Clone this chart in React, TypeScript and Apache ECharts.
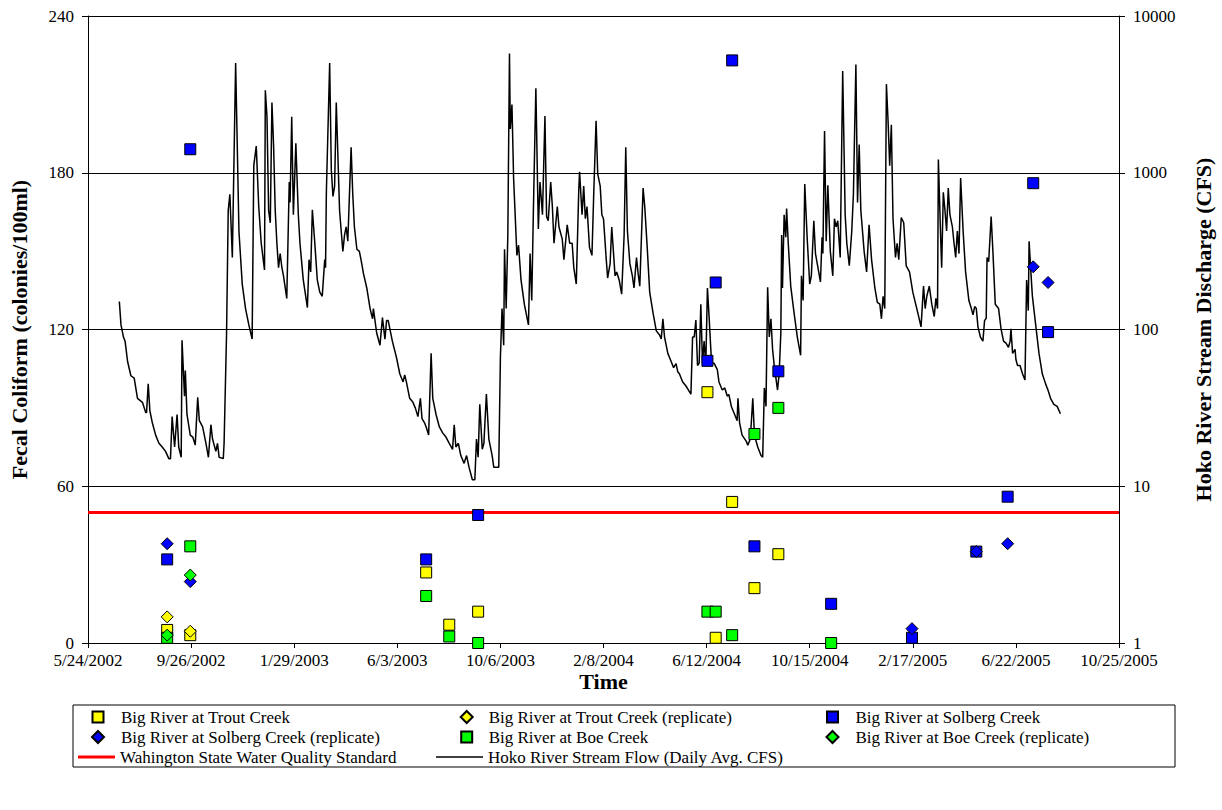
import React, { useEffect, useRef } from "react";
import * as echarts from "echarts";

// ---------- axis definitions ----------
const BASE_UTC = Date.UTC(2002, 4, 24); // 5/24/2002 = day 0
const X_MAX_DAYS = 1250; // 10/25/2005
const X_STEP_DAYS = 125;
const LEFT_MAX = 240;
const LEFT_STEP = 60;
const RIGHT_MIN = 1;
const RIGHT_MAX = 10000;
const WQ_STANDARD = 50;

// ---------- names ----------
const N_TROUT = "Big River at Trout Creek";
const N_TROUT_R = "Big River at Trout Creek (replicate)";
const N_SOLB = "Big River at Solberg Creek";
const N_SOLB_R = "Big River at Solberg Creek (replicate)";
const N_BOE = "Big River at Boe Creek";
const N_BOE_R = "Big River at Boe Creek (replicate)";
const N_STD = "Wahington State Water Quality Standard";
const N_FLOW = "Hoko River Stream Flow (Daily Avg. CFS)";

// ---------- fecal coliform samples (day offset from 5/24/2002, colonies/100ml) ----------
const troutDays = [96, 124, 410, 438, 473, 751, 761, 781, 808, 837];
const troutVals = [5, 3, 27, 7, 12, 96, 2, 54, 21, 34];
const troutRepDays = [96, 124];
const troutRepVals = [10, 4.5];
const solbDays = [96, 124, 410, 473, 751, 761, 781, 808, 837, 901, 999, 1077, 1115, 1146, 1164];
const solbVals = [32, 189, 32, 49, 108, 138, 223, 37, 104, 15, 2, 35, 56, 176, 119];
const solbRepDays = [96, 124, 999, 1077, 1115, 1146, 1164];
const solbRepVals = [38, 23.5, 5.5, 35, 38, 144, 138];
const boeDays = [96, 124, 410, 438, 473, 751, 761, 781, 808, 837, 901];
const boeVals = [2, 37, 18, 2.5, 0, 12, 12, 3, 80, 90, 0];
const boeRepDays = [96, 124];
const boeRepVals = [3, 26];

// ---------- Hoko River daily flow (day offset, CFS) ----------
const flowDays = [
  38, 40, 43, 45, 48, 52, 56, 60, 66, 70, 71, 73, 75, 78, 82, 86, 90, 94, 98, 100,
  102, 105, 108, 110, 113, 114, 117, 118, 120, 124, 127, 130, 133, 135, 139, 143, 146, 149, 151, 155,
  157, 159, 164, 165, 168, 170, 172, 175, 179, 183, 187, 191, 195, 199, 201, 204, 207, 210, 214, 215,
  217, 219, 221, 223, 225, 227, 229, 231, 233, 235, 237, 241, 244, 245, 247, 249, 252, 255, 257, 261,
  266, 268, 270, 272, 275, 278, 281, 284, 287, 288, 289, 293, 295, 297, 299, 301, 305, 307, 309, 311,
  313, 315, 317, 319, 321, 323, 326, 329, 331, 334, 338, 342, 345, 346, 350, 354, 357, 360, 362, 364,
  366, 369, 374, 378, 382, 384, 386, 390, 394, 397, 400, 403, 405, 408, 410, 413, 416, 418, 420, 422,
  426, 430, 434, 438, 442, 444, 446, 449, 452, 456, 459, 462, 466, 469, 471, 473, 475, 478, 480, 483,
  486, 490, 492, 498, 500, 502, 504, 505, 507, 509, 511, 512, 514, 516, 520, 522, 525, 529, 534, 536,
  538, 540, 543, 546, 548, 551, 554, 556, 558, 561, 563, 565, 569, 571, 575, 577, 581, 584, 587, 589,
  592, 595, 596, 599, 601, 603, 605, 608, 611, 613, 616, 618, 621, 623, 625, 628, 630, 633, 635, 637,
  639, 641, 644, 647, 650, 652, 654, 657, 660, 662, 665, 667, 669, 673, 675, 678, 681, 685, 689, 693,
  695, 697, 699, 703, 707, 710, 713, 715, 717, 721, 725, 728, 731, 733, 735, 737, 739, 741, 743, 745,
  747, 749, 751, 753, 756, 759, 763, 765, 769, 772, 775, 777, 780, 784, 787, 788, 790, 793, 798, 800,
  803, 806, 808, 812, 816, 818, 820, 822, 824, 826, 828, 830, 832, 836, 838, 840, 841, 842, 844, 846,
  847, 849, 852, 856, 860, 864, 865, 867, 869, 872, 875, 877, 880, 882, 885, 888, 890, 891, 893, 895,
  897, 900, 903, 905, 907, 909, 912, 915, 918, 920, 923, 926, 928, 931, 933, 935, 937, 941, 944, 947,
  950, 954, 957, 960, 962, 964, 966, 968, 970, 972, 974, 976, 979, 981, 983, 986, 989, 992, 996, 1000,
  1006, 1010, 1013, 1015, 1017, 1020, 1023, 1026, 1028, 1030, 1031, 1034, 1035, 1037, 1039, 1041, 1043, 1045, 1048, 1050,
  1052, 1054, 1056, 1058, 1061, 1064, 1068, 1071, 1073, 1075, 1077, 1079, 1082, 1085, 1087, 1089, 1090, 1092, 1095, 1097,
  1100, 1104, 1107, 1110, 1113, 1116, 1118, 1119, 1121, 1124, 1125, 1127, 1130, 1133, 1136, 1138, 1140, 1141, 1143, 1145,
  1149, 1153, 1157, 1161, 1164, 1167, 1171, 1175, 1179,
];
const flowCfs = [
  151, 107, 89.5, 84, 62.5, 50.7, 49, 36.4, 34.3, 29.5, 29.5, 45, 30.4, 25.4, 21.2, 18.8, 17.8, 16.7, 15, 15,
  27.8, 17.8, 28.7, 17.8, 15.3, 85.3, 37.5, 54.7, 28.7, 21.2, 20.6, 18.3, 36.9, 26.2, 23.9, 18.8, 15.3, 24.7, 20, 16.7,
  18.8, 15.3, 15, 18.8, 95, 574, 729, 288, 5020, 425, 195, 136, 107, 86.9, 1109, 1479, 609, 355, 240, 3360,
  2277, 574, 479, 2806, 1497, 574, 355, 248, 305, 250, 220, 158, 873, 647, 2277, 540, 1542, 540, 355, 207,
  138, 279, 233, 581, 355, 207, 173, 163, 279, 248, 751, 5020, 1045, 707, 822, 2806, 574, 425, 315, 400,
  451, 366, 729, 1452, 729, 451, 325, 315, 279, 227, 184, 136, 117, 136, 95, 79.4, 119, 86.9, 114, 114,
  101, 84.3, 66.3, 52.2, 46.3, 51.3, 46.3, 36.4, 34.3, 31.4, 27.8, 36.4, 27, 25.4, 23.9, 21.2, 70.4, 36.4, 32.3, 28.7,
  23.9, 21.9, 20.6, 18.8, 17.2, 24.7, 17.8, 18.8, 15.7, 14, 15.7, 13.2, 11, 11, 20, 15.3, 33.3, 17.2, 18.8, 38.7,
  20, 15.7, 13.2, 13.2, 66.3, 136, 79.4, 325, 136, 400, 5770, 1901, 2723, 927, 297, 345, 207, 145, 107, 305,
  153, 574, 3460, 438, 873, 540, 2303, 525, 494, 873, 609, 355, 609, 451, 377, 279, 465, 355, 355, 248,
  195, 774, 1013, 540, 822, 509, 609, 334, 297, 687, 2144, 984, 822, 540, 509, 297, 213, 263, 451, 315,
  220, 233, 207, 168, 400, 1452, 425, 263, 220, 184, 288, 227, 189, 798, 609, 334, 173, 128, 98, 92.2,
  86.9, 117, 89.5, 70.4, 62.5, 57.1, 60.6, 53.8, 52.2, 46.3, 43.6, 41.1, 38.7, 89.5, 89.5, 115, 58.9, 61, 145, 61,
  84.3, 59, 184, 121, 61, 61, 55.4, 46.3, 41.1, 42.4, 37.6, 38.5, 32.3, 28.7, 26.2, 36.4, 25.4, 21.2, 19.4, 18.3,
  20, 36.4, 21.2, 17.8, 15.7, 15.3, 42.4, 32.3, 186, 89.5, 117, 74.8, 58.9, 41.1, 52.2, 95, 400, 184, 540, 388,
  591, 355, 189, 128, 89.5, 68.4, 220, 153, 847, 377, 195, 220, 494, 305, 248, 201, 388, 305, 1845, 366,
  832, 315, 220, 509, 451, 494, 288, 4453, 540, 355, 255, 425, 729, 4900, 647, 1515, 574, 315, 233, 465,
  279, 184, 149, 145, 117, 163, 136, 3675, 2144, 1109, 2020, 509, 288, 355, 279, 518, 480, 255, 233, 173,
  128, 104, 189, 136, 163, 189, 145, 121, 158, 136, 1213, 355, 248, 751, 574, 425, 798, 540, 451, 355,
  288, 425, 305, 927, 425, 233, 153, 136, 124, 140, 136, 104, 89.5, 84.3, 114, 118, 288, 271, 525, 325,
  145, 136, 101, 84.3, 81.8, 77, 84.3, 101, 70.4, 74.8, 64.4, 58.9, 58.9, 52.2, 47.7, 207, 132, 366, 240, 163,
  107, 70.4, 52.2, 45, 41, 36.4, 33.3, 32.3, 29,
];

const FONT = "'Liberation Serif', 'Times New Roman', serif";
const ICON_SQUARE = "path://M0,0L10,0L10,10L0,10Z";
const ICON_DIAMOND = "path://M5,0L10,5L5,10L0,5Z";

function fmtDate(v: number): string {
  const d = new Date(BASE_UTC + Math.round(v) * 86400000);
  return `${d.getUTCMonth() + 1}/${d.getUTCDate()}/${d.getUTCFullYear()}`;
}

function zip(a: number[], b: number[]): number[][] {
  return a.map((x, i) => [x, b[i]]);
}

export default function App() {
  const ref = useRef<HTMLDivElement>(null);

  useEffect(() => {
    if (!ref.current) return;
    const chart = echarts.init(ref.current, null, { renderer: "svg" });

    const sq = (name: string, color: string, days: number[], vals: number[]) => ({
      name,
      type: "scatter",
      yAxisIndex: 0,
      symbol: "rect",
      symbolSize: 11,
      itemStyle: { color, borderColor: "#000", borderWidth: 1, opacity: 1 },
      data: zip(days, vals),
      z: 5,
    });
    const dm = (name: string, color: string, days: number[], vals: number[]) => ({
      name,
      type: "scatter",
      yAxisIndex: 0,
      symbol: "diamond",
      symbolSize: 12,
      itemStyle: { color, borderColor: "#000", borderWidth: 1, opacity: 1 },
      data: zip(days, vals),
      z: 6,
    });

    const legendText = { fontFamily: FONT, fontSize: 17, color: "#000" };
    const r1 = 708.5, r2 = 728.5, r3 = 748.5;
    const cell = (name: string, icon: string, left: number, top: number, w: number, h: number) => ({
      data: [{ name, icon }],
      left,
      top,
      orient: "horizontal",
      itemWidth: w,
      itemHeight: h,
      padding: 0,
      itemGap: 0,
      symbolKeepAspect: true,
      selectedMode: false,
      textStyle: legendText,
    });

    const titleStyle = { fontFamily: FONT, fontSize: 22, fontWeight: "bold", color: "#000" };
    const tickStyle = { fontFamily: FONT, fontSize: 17, color: "#000" };

    const option: any = {
      animation: false,
      backgroundColor: "#fff",
      grid: { left: 85, right: 100, top: 16, bottom: 167, containLabel: false },
      xAxis: {
        type: "value",
        min: 0,
        max: X_MAX_DAYS,
        interval: X_STEP_DAYS,
        name: "Time",
        nameLocation: "middle",
        nameGap: 27,
        nameMoveOverlap: false,
        nameTextStyle: titleStyle,
        axisLine: { show: true, lineStyle: { color: "#000", width: 1 } },
        axisTick: { show: true, inside: false, length: 5, lineStyle: { color: "#000" } },
        axisLabel: { ...tickStyle, formatter: (v: number) => fmtDate(v), margin: 9 },
        splitLine: { show: false },
      },
      yAxis: [
        {
          type: "value",
          min: 0,
          max: LEFT_MAX,
          interval: LEFT_STEP,
          position: "left",
          name: "Fecal Coliform (colonies/100ml)",
          nameLocation: "middle",
          nameGap: 58,
          nameTextStyle: titleStyle,
          axisLine: { show: true, lineStyle: { color: "#000", width: 1 } },
          axisTick: { show: true, inside: false, length: 6, lineStyle: { color: "#000" } },
          axisLabel: { ...tickStyle, margin: 14 },
          splitLine: { show: true, lineStyle: { color: "#000", width: 1 } },
        },
        {
          type: "log",
          logBase: 10,
          min: RIGHT_MIN,
          max: RIGHT_MAX,
          position: "right",
          name: "Hoko River Stream Discharge (CFS)",
          nameLocation: "middle",
          nameGap: 73,
          nameRotate: 90,
          nameTextStyle: titleStyle,
          axisLine: { show: true, lineStyle: { color: "#000", width: 1 } },
          axisTick: { show: true, inside: false, length: 6, lineStyle: { color: "#000" } },
          axisLabel: { ...tickStyle, margin: 14, formatter: (v: number) => String(Math.round(v)) },
          splitLine: { show: false },
          minorTick: { show: false },
        },
      ],
      legend: [
        cell(N_TROUT, ICON_SQUARE, 91.5, r1, 36, 11),
        cell(N_TROUT_R, ICON_DIAMOND, 459.7, r1, 34, 12),
        cell(N_SOLB, ICON_SQUARE, 826, r1, 36, 11),
        cell(N_SOLB_R, ICON_DIAMOND, 91, r2, 36, 12),
        cell(N_BOE, ICON_SQUARE, 460.2, r2, 34, 11),
        cell(N_BOE_R, ICON_DIAMOND, 825.5, r2, 36, 12),
        cell(N_STD, "rect", 78, r3, 37, 3),
        cell(N_FLOW, "rect", 436, r3, 47, 1.5),
      ],
      graphic: [
        {
          type: "rect",
          shape: { x: 73, y: 705, width: 1102, height: 62 },
          style: { fill: "none", stroke: "#000", lineWidth: 1 },
          z: 0,
          silent: true,
        },
      ],
      series: [
        {
          name: N_FLOW,
          type: "line",
          yAxisIndex: 1,
          symbol: "none",
          showSymbol: false,
          lineStyle: { color: "#000", width: 1.5 },
          itemStyle: { color: "#000" },
          data: zip(flowDays, flowCfs),
          z: 2,
        },
        {
          name: N_STD,
          type: "line",
          yAxisIndex: 0,
          symbol: "none",
          showSymbol: false,
          lineStyle: { color: "#ff0000", width: 3 },
          itemStyle: { color: "#ff0000" },
          data: [
            [0, WQ_STANDARD],
            [X_MAX_DAYS, WQ_STANDARD],
          ],
          z: 3,
        },
        sq(N_TROUT, "#ffff00", troutDays, troutVals),
        dm(N_TROUT_R, "#ffff00", troutRepDays, troutRepVals),
        sq(N_SOLB, "#0000ff", solbDays, solbVals),
        dm(N_SOLB_R, "#0000ff", solbRepDays, solbRepVals),
        sq(N_BOE, "#00ff00", boeDays, boeVals),
        dm(N_BOE_R, "#00ff00", boeRepDays, boeRepVals),
      ],
    };

    chart.setOption(option);
    return () => chart.dispose();
  }, []);

  return (
    <div
      ref={ref}
      style={{ position: "fixed", left: 0, top: 0, width: 1222, height: 810, background: "#fff" }}
    />
  );
}
